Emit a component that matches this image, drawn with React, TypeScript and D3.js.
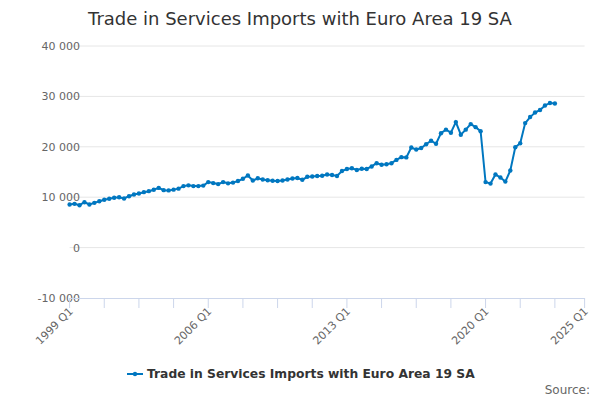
import React, { useEffect, useRef } from 'react';
import * as d3 from 'd3';

const title = 'Trade in Services Imports with Euro Area 19 SA';
const seriesName = 'Trade in Services Imports with Euro Area 19 SA';

// quarterly values from 1999 Q1
const values: number[] = [
  8550, 8680, 8410, 9000, 8550, 8880, 9200, 9480, 9680, 9880,
  10000, 9740, 10200, 10540, 10740, 11000, 11200, 11470, 11850, 11400,
  11350, 11500, 11700, 12200, 12350, 12200, 12200, 12300, 13000, 12800,
  12600, 13000, 12750, 12900, 13200, 13650, 14300, 13300, 13750, 13500,
  13350, 13250, 13200, 13300, 13500, 13700, 13800, 13450, 14050, 14100,
  14200, 14250, 14500, 14400, 14200, 15200, 15600, 15750, 15400, 15650,
  15600, 16100, 16750, 16450, 16550, 16750, 17400, 17950, 17900, 19850,
  19450, 19750, 20500, 21200, 20600, 22700, 23400, 22800, 24900, 22400,
  23400, 24500, 23900, 23100, 13000, 12700, 14500, 13900, 13100, 15300,
  19900, 20700, 24700, 25900, 26800, 27300, 28200, 28700, 28600,
];

const yTicks = [-10000, 0, 10000, 20000, 30000, 40000];
const xTickLabels = ['1999 Q1', '2006 Q1', '2013 Q1', '2020 Q1', '2025 Q1'];
const xLabelIndex = [0, 28, 56, 84, 104];
const lastQuarter = 104;

// "40 000" style, with a plain hyphen for negatives
const fmt = (v: number) => (v < 0 ? '-' : '') + d3.format(',')(Math.abs(v)).replace(/,/g, ' ');

const App: React.FC = () => {
  const svgRef = useRef<SVGSVGElement>(null);

  useEffect(() => {
    if (!svgRef.current) return;
    const svg = d3.select(svgRef.current);
    svg.selectAll('*').remove();

    const width = 600;
    const height = 400;
    const left = 69.6;
    const right = 584.6;
    const top = 46;
    const bottom = 298;
    const font = '"DejaVu Sans", sans-serif';
    const color = '#0077c0';

    const x = d3.scaleLinear().domain([0, lastQuarter]).range([left, right]);
    const y = d3.scaleLinear().domain([-10000, 40000]).range([bottom, top]);

    svg.append('rect').attr('width', width).attr('height', height).attr('fill', '#fff');

    // Title
    svg.append('text')
      .attr('x', width / 2)
      .attr('y', 25)
      .attr('text-anchor', 'middle')
      .style('font-family', font)
      .style('font-size', '18px')
      .style('fill', '#333')
      .text(title);

    // Grid lines + y labels
    yTicks.forEach(t => {
      if (t !== -10000) {
        svg.append('line')
          .attr('x1', left).attr('x2', right)
          .attr('y1', y(t)).attr('y2', y(t))
          .attr('stroke', '#e6e6e6');
      }
      svg.append('text')
        .attr('x', 80)
        .attr('y', y(t) + 4)
        .attr('text-anchor', 'end')
        .style('font-family', font)
        .style('font-size', '11px')
        .style('fill', '#666')
        .text(fmt(t));
    });

    // X axis
    svg.append('line')
      .attr('x1', left).attr('x2', right)
      .attr('y1', bottom + 0.5).attr('y2', bottom + 0.5)
      .attr('stroke', '#ccd6eb');

    const tickIdx = d3.range(0, 99, 7).concat([lastQuarter]);
    tickIdx.forEach(i => {
      svg.append('line')
        .attr('x1', x(i)).attr('x2', x(i))
        .attr('y1', bottom).attr('y2', bottom + 10)
        .attr('stroke', '#ccd6eb');
    });

    xLabelIndex.forEach((i, k) => {
      svg.append('text')
        .attr('transform', `translate(${x(i) + 4},${bottom + 14}) rotate(-45)`)
        .attr('text-anchor', 'end')
        .style('font-family', font)
        .style('font-size', '11px')
        .style('fill', '#666')
        .text(xTickLabels[k]);
    });

    // Series
    const line = d3.line<number>()
      .x((_, i) => x(i))
      .y(d => y(d));

    svg.append('path')
      .datum(values)
      .attr('d', line)
      .attr('fill', 'none')
      .attr('stroke', color)
      .attr('stroke-width', 2);

    svg.selectAll('.dot')
      .data(values)
      .enter().append('circle')
      .attr('class', 'dot')
      .attr('cx', (_, i) => x(i))
      .attr('cy', d => y(d))
      .attr('r', 2.2)
      .attr('fill', color);

    // Legend
    svg.append('line')
      .attr('x1', 127).attr('x2', 143)
      .attr('y1', 374).attr('y2', 374)
      .attr('stroke', color)
      .attr('stroke-width', 2);
    svg.append('circle')
      .attr('cx', 135).attr('cy', 374).attr('r', 2.2)
      .attr('fill', color);
    svg.append('text')
      .attr('x', 147)
      .attr('y', 378)
      .style('font-family', font)
      .style('font-size', '12.3px')
      .style('font-weight', 'bold')
      .style('fill', '#333')
      .text(seriesName);

    // Credits
    svg.append('text')
      .attr('x', 590)
      .attr('y', 394)
      .attr('text-anchor', 'end')
      .style('font-family', font)
      .style('font-size', '12px')
      .style('fill', '#666')
      .text('Source:');
  }, []);

  return (
    <svg
      ref={svgRef}
      width={600}
      height={400}
      style={{ position: 'absolute', left: 0, top: 0 }}
    />
  );
};

export default App;
